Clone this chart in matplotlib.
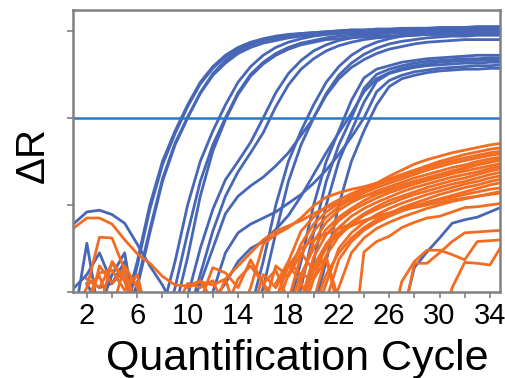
import matplotlib
matplotlib.use("Agg")
import matplotlib.pyplot as plt
import numpy as np

plt.rcParams['font.family'] = ['Liberation Sans', 'DejaVu Sans']

BLUE = '#4767B6'
ORANGE = '#F26C22'
THRESH = '#2779C9'
GRAY = '#808080'

threshold = 2.0
x_ticks = [2, 4, 6, 8, 10, 12, 14, 16, 18, 20, 22, 24, 26, 28, 30, 32, 34]
x_tick_labels = ['2', '', '6', '', '10', '', '14', '', '18', '', '22', '', '26', '', '30', '', '34']
y_ticks = [0, 1, 2, 3]

# blue wells: first cycle of each list, then delta R per cycle
blue_start = [5, 5, 5, 5, 8, 8, 9, 10, 10, 15, 15, 10, 18, 18, 11, 19, 11, 20,
              1, 27, 1, 2, 1, 2]
blue_values = [
    [-0.2, 0.35, 1.0, 1.5, 1.85, 2.15, 2.41, 2.59, 2.72, 2.81, 2.87, 2.91, 2.94, 2.96, 2.97, 2.98,
     2.99, 3.0, 3.01, 3.01, 3.02, 3.02, 3.03, 3.03, 3.03, 3.04, 3.04, 3.04, 3.05, 3.05, 3.05],
    [-0.3, 0.3, 0.95, 1.46, 1.82, 2.13, 2.39, 2.57, 2.7, 2.79, 2.85, 2.89, 2.92, 2.94, 2.95, 2.96,
     2.97, 2.98, 2.99, 2.99, 3.0, 3.0, 3.01, 3.01, 3.01, 3.02, 3.02, 3.02, 3.03, 3.03, 3.03],
    [-0.5, 0.05, 0.68, 1.27, 1.69, 2.0, 2.29, 2.51, 2.66, 2.77, 2.84, 2.89, 2.92, 2.95, 2.97, 2.98,
     2.99, 3.0, 3.01, 3.01, 3.02, 3.02, 3.02, 3.03, 3.03, 3.03, 3.03, 3.04, 3.04, 3.04, 3.04],
    [-0.3, 0.1, 0.72, 1.3, 1.71, 2.01, 2.28, 2.49, 2.63, 2.74, 2.81, 2.86, 2.89, 2.92, 2.94, 2.95,
     2.96, 2.97, 2.98, 2.98, 2.99, 2.99, 2.99, 3.0, 3.0, 3.0, 3.0, 3.01, 3.01, 3.01, 3.01],
    [-0.2, 0.35, 1.0, 1.5, 1.85, 2.15, 2.41, 2.59, 2.72, 2.81, 2.87, 2.91, 2.94, 2.96, 2.97, 2.98,
     2.99, 2.99, 3.0, 3.0, 3.01, 3.01, 3.01, 3.02, 3.02, 3.02, 3.02, 3.02],
    [-0.5, 0.05, 0.68, 1.27, 1.69, 2.0, 2.29, 2.5, 2.64, 2.74, 2.81, 2.86, 2.89, 2.92, 2.94, 2.95,
     2.96, 2.97, 2.97, 2.98, 2.98, 2.99, 2.99, 2.99, 3.0, 3.0, 3.0, 3.0],
    [-0.2, 0.4, 1.1, 1.62, 1.98, 2.27, 2.48, 2.62, 2.72, 2.79, 2.84, 2.87, 2.9, 2.91, 2.92, 2.93,
     2.94, 2.94, 2.95, 2.95, 2.96, 2.96, 2.96, 2.97, 2.97, 2.97, 2.97],
    [-0.05, 0.5, 0.95, 1.29, 1.5, 1.72, 2.0, 2.29, 2.51, 2.66, 2.77, 2.84, 2.89, 2.92, 2.95, 2.97,
     2.98, 2.99, 3.0, 3.0, 3.01, 3.01, 3.01, 3.02, 3.02, 3.02],
    [-0.3, 0.2, 0.7, 1.1, 1.38, 1.6, 1.83, 2.13, 2.38, 2.56, 2.68, 2.77, 2.83, 2.87, 2.9, 2.92,
     2.93, 2.94, 2.95, 2.96, 2.96, 2.97, 2.97, 2.97, 2.98, 2.98],
    [-0.2, 0.35, 1.0, 1.5, 1.85, 2.15, 2.41, 2.59, 2.72, 2.81, 2.87, 2.91, 2.94, 2.96, 2.97, 2.98,
     2.99, 2.99, 3.0, 3.0, 3.0],
    [-0.4, 0.05, 0.68, 1.27, 1.69, 2.0, 2.28, 2.49, 2.63, 2.73, 2.8, 2.85, 2.88, 2.9, 2.92, 2.93,
     2.94, 2.94, 2.95, 2.95, 2.95],
    [-0.3, 0.1, 0.5, 0.9, 1.1, 1.22, 1.32, 1.45, 1.6, 1.8, 2.0, 2.26, 2.45, 2.58, 2.67, 2.74,
     2.79, 2.82, 2.85, 2.87, 2.88, 2.89, 2.9, 2.9, 2.9, 2.9],
    [-0.2, 0.35, 1.0, 1.5, 1.85, 2.2, 2.46, 2.56, 2.6, 2.64, 2.66, 2.68, 2.69, 2.7, 2.71, 2.72,
     2.72, 2.72],
    [-0.4, 0.05, 0.68, 1.27, 1.69, 2.0, 2.34, 2.5, 2.56, 2.6, 2.63, 2.65, 2.66, 2.67, 2.68, 2.68,
     2.69, 2.69],
    [-0.3, -0.1, 0.1, 0.35, 0.5, 0.58, 0.72, 0.88, 1.1, 1.35, 1.6, 1.83, 2.05, 2.3, 2.45, 2.52,
     2.57, 2.6, 2.62, 2.64, 2.65, 2.66, 2.66, 2.67, 2.67],
    [-0.2, 0.35, 1.0, 1.5, 1.85, 2.18, 2.42, 2.51, 2.55, 2.58, 2.6, 2.61, 2.62, 2.63, 2.63, 2.64,
     2.64],
    [-0.4, 0.0, 0.45, 0.68, 0.78, 0.85, 0.92, 1.02, 1.12, 1.25, 1.4, 1.58, 1.78, 2.0, 2.3, 2.43,
     2.49, 2.53, 2.55, 2.57, 2.58, 2.59, 2.6, 2.6, 2.61],
    [-0.2, 0.35, 1.0, 1.5, 1.85, 2.15, 2.36, 2.45, 2.49, 2.52, 2.54, 2.55, 2.56, 2.56, 2.57, 2.57],
    [0.79, 0.92, 0.94, 0.89, 0.79, 0.55, 0.3, 0.08, -0.2],
    [-0.3, 0.28, 0.46, 0.62, 0.79, 0.83, 0.86, 0.92, 0.98],
    [-0.3, 0.56, -0.3],
    [0.1, -0.2, 0.2, 0.45, -0.4],
    [0.05, 0.2, 0.45, 0.1, 0.25, -0.5],
    [0.15, 0.05, 0.1, 0.35, -0.3],
]

# orange wells
orange_start = [10, 16, 17, 18, 18, 18, 19, 19, 19, 20, 20, 20, 21, 19, 21, 17, 12,
                23, 26, 27, 30,
                1, 1, 2, 2, 2, 2, 3, 9, 11, 13, 15, 16, 17]
orange_values = [
    [0.05, 0.12, 0.08, 0.15, -0.3, 0.05, 0.55, 0.66, 0.74, 0.85, 0.99, 1.09, 1.14, 1.18, 1.21,
     1.25, 1.33, 1.4, 1.47, 1.52, 1.56, 1.6, 1.63, 1.66, 1.69, 1.71],
    [0.1, -0.1, 0.35, 0.7, 0.86, 0.98, 1.06, 1.13, 1.19, 1.25, 1.3, 1.35, 1.4, 1.45, 1.5, 1.54,
     1.58, 1.61, 1.64, 1.66],
    [-0.2, 0.2, 0.55, 0.78, 0.92, 1.02, 1.1, 1.17, 1.23, 1.28, 1.33, 1.38, 1.43, 1.47, 1.51, 1.54,
     1.57, 1.6, 1.62],
    [-0.1, 0.42, 0.7, 0.86, 0.98, 1.07, 1.14, 1.2, 1.25, 1.3, 1.35, 1.4, 1.44, 1.48, 1.51, 1.54,
     1.57, 1.59],
    [-0.4, 0.12, 0.58, 0.8, 0.94, 1.03, 1.1, 1.16, 1.21, 1.26, 1.31, 1.35, 1.39, 1.43, 1.46, 1.5,
     1.53, 1.55],
    [-0.2, 0.2, 0.5, 0.72, 0.86, 0.96, 1.05, 1.12, 1.17, 1.22, 1.27, 1.31, 1.35, 1.39, 1.42, 1.46,
     1.49, 1.52],
    [-0.1, 0.4, 0.66, 0.82, 0.93, 1.01, 1.08, 1.14, 1.19, 1.24, 1.28, 1.32, 1.36, 1.39, 1.42, 1.45,
     1.48],
    [-0.3, 0.15, 0.55, 0.74, 0.87, 0.96, 1.03, 1.09, 1.15, 1.2, 1.24, 1.28, 1.32, 1.35, 1.38, 1.42,
     1.45],
    [-0.2, 0.25, 0.5, 0.68, 0.8, 0.9, 0.98, 1.05, 1.1, 1.15, 1.2, 1.24, 1.28, 1.31, 1.35, 1.39,
     1.42],
    [-0.1, 0.42, 0.64, 0.78, 0.88, 0.95, 1.01, 1.07, 1.12, 1.16, 1.2, 1.24, 1.27, 1.31, 1.35, 1.38],
    [-0.3, 0.1, 0.5, 0.68, 0.8, 0.89, 0.96, 1.02, 1.07, 1.12, 1.16, 1.2, 1.24, 1.27, 1.31, 1.34],
    [-0.2, 0.2, 0.45, 0.62, 0.74, 0.83, 0.9, 0.97, 1.02, 1.07, 1.12, 1.16, 1.2, 1.23, 1.27, 1.3],
    [-0.1, 0.37, 0.58, 0.71, 0.8, 0.87, 0.93, 0.98, 1.03, 1.07, 1.11, 1.15, 1.19, 1.23, 1.26],
    [-0.2, 0.3, 0.55, 0.68, 0.76, 0.82, 0.87, 0.91, 0.95, 0.99, 1.03, 1.06, 1.09, 1.12, 1.15, 1.18,
     1.2],
    [-0.3, 0.05, 0.45, 0.62, 0.73, 0.8, 0.86, 0.91, 0.96, 1.0, 1.04, 1.07, 1.1, 1.13, 1.16],
    [-0.1, 0.3, 0.5, 0.6, 0.67, 0.73, 0.78, 0.82, 0.86, 0.9, 0.94, 0.97, 1.0, 1.03, 1.06, 1.08,
     1.1, 1.12, 1.14],
    [-0.2, 0.15, 0.3, 0.45, 0.6, 0.7, 0.76, 0.82, 0.9, 0.97, 1.02, 1.06, 1.1, 1.14, 1.18, 1.23,
     1.27, 1.31, 1.35, 1.39, 1.43, 1.47, 1.5, 1.53],
    [-0.8, 0.46, 0.58, 0.64, 0.74, 0.8, 0.85, 0.87, 0.92, 0.97, 0.98, 1.0, 1.02],
    [-0.5, 0.12, 0.35, 0.48, 0.48, 0.43, 0.37, 0.58, 0.59, 0.6],
    [-0.4, 0.33, 0.33, 0.45, 0.58, 0.68, 0.69, 0.7, 0.71],
    [-0.5, 0.05, 0.34, 0.33, 0.31, 0.55],
    [0.74, 0.85, 0.85, 0.78, 0.6, 0.44, 0.33, 0.18, 0.08, 0.07, 0.13, -0.1],
    [-0.2, 0.05, 0.63, 0.62, 0.25, -0.3],
    [-0.3, 0.3, 0.1, 0.28, -0.2],
    [0.15, 0.05, 0.33, 0.12, -0.3],
    [-0.1, 0.22, 0.25, 0.02, 0.2, -0.4],
    [0.08, 0.18, -0.2, 0.3, 0.05, -0.3],
    [-0.2, 0.35, 0.15, 0.1, -0.2],
    [-0.2, 0.1, 0.05, 0.13, -0.2],
    [-0.1, 0.28, 0.22, 0.05, 0.37, 0.1, -0.3],
    [-0.2, 0.15, 0.3, 0.1, 0.25, -0.1],
    [-0.3, 0.2, 0.05, 0.32, 0.1, -0.2],
    [-0.2, 0.3, 0.18, 0.45, 0.25, 0.4, -0.1],
    [0.1, 0.35, 0.2, 0.15, 0.38, -0.2],
]

fig = plt.figure(figsize=(5.05, 3.78), dpi=100)
ax = fig.add_axes([0.1446, 0.2275, 0.8455, 0.746])

for start, vals in zip(blue_start, blue_values):
    cyc = np.arange(start, start + len(vals))
    ax.plot(cyc, vals, color=BLUE, lw=2.0, solid_joinstyle='round')

for start, vals in zip(orange_start, orange_values):
    cyc = np.arange(start, start + len(vals))
    ax.plot(cyc, vals, color=ORANGE, lw=2.0, solid_joinstyle='round')

ax.axhline(threshold, color=THRESH, lw=1.8)

ax.set_xlim(0.9, 34.8)
ax.set_ylim(0, 3.24)
ax.set_xticks(x_ticks)
ax.set_xticklabels(x_tick_labels, fontsize=21)
ax.set_yticks(y_ticks)
ax.set_yticklabels([])
ax.tick_params(axis='both', length=4, width=1.2, color=GRAY, pad=3)

for s in ax.spines.values():
    s.set_color(GRAY)
    s.set_linewidth(1.8)

ax.set_xlabel('Quantification Cycle', fontsize=31)
ax.xaxis.set_label_coords(0.526, -0.165)
ax.set_ylabel('ΔR', fontsize=29)
ax.yaxis.set_label_coords(-0.05, 0.486)

fig.savefig('out.png', dpi=100)
